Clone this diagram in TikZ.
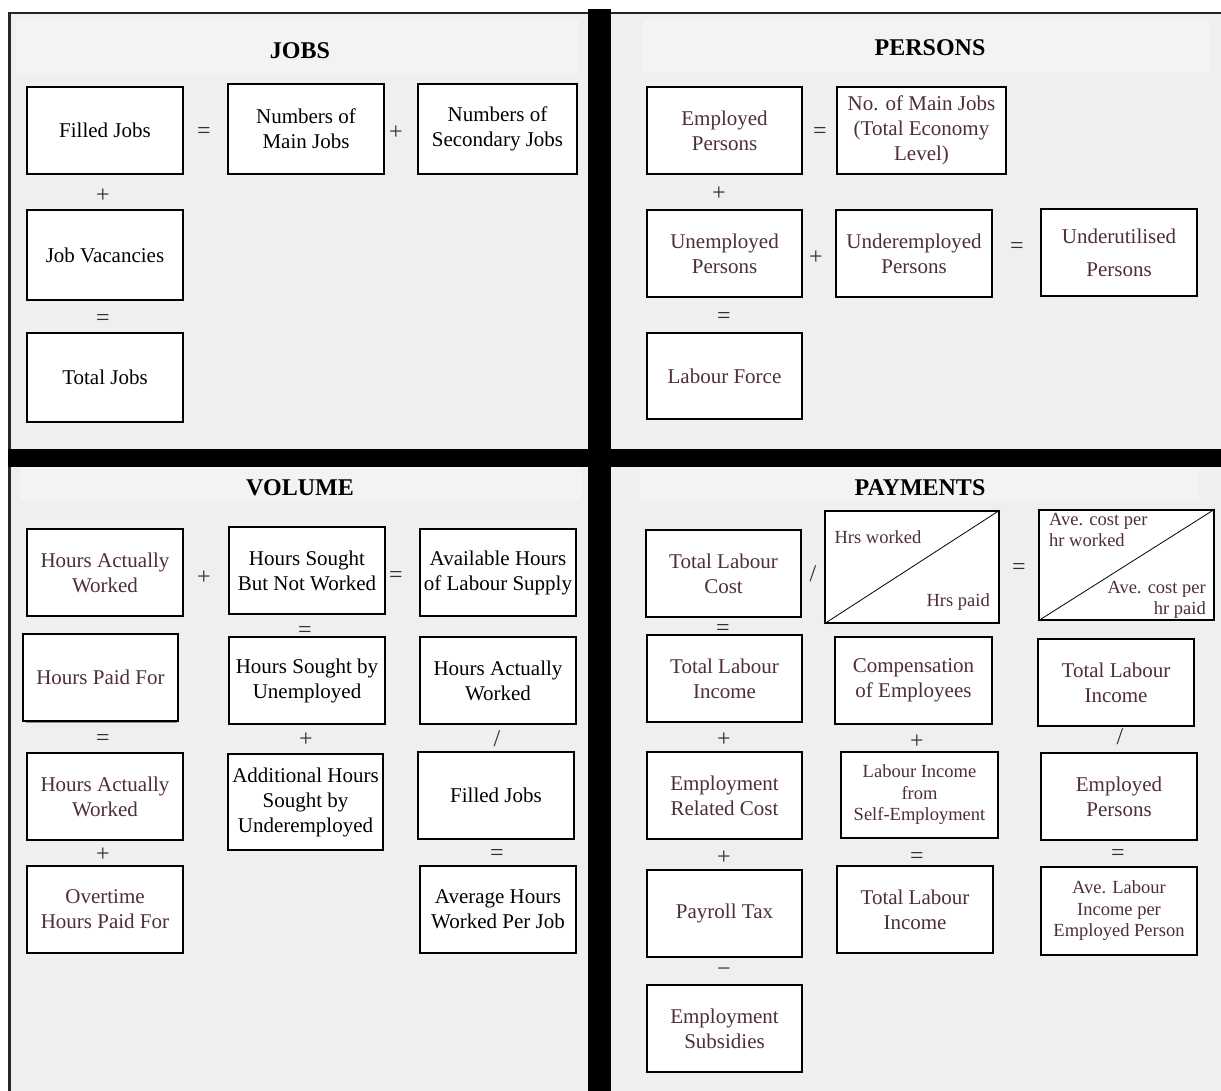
\documentclass[tikz,border=0pt]{standalone}
\usepackage{fontspec}
\setmainfont{Liberation Serif}
\definecolor{bgc}{HTML}{EFEFEF}
\definecolor{bandc}{HTML}{F3F3F3}
\definecolor{maroon}{HTML}{4E2E3C}
\definecolor{opc}{HTML}{2E2E2E}
\newcommand\txtbig{\fontsize{21}{25}\selectfont}
\newcommand\txtsmall{\fontsize{18.5}{21.5}\selectfont}
\newcommand\txttitle{\fontsize{24}{28}\selectfont\bfseries}
\newcommand\txtop{\fontsize{24}{28}\selectfont}
\tikzset{
  bx/.style={draw=black, line width=1.8pt, fill=white, align=center, inner sep=0pt,
    font=\txtbig, minimum width=156pt, minimum height=87pt},
  mar/.style={text=maroon},
  blk/.style={text=black},
  op/.style={text=opc, font=\txtop, inner sep=0pt, yshift=-2pt},
  ttl/.style={font=\txttitle, text=black, inner sep=0pt},
  band/.style={fill=bandc, draw=none},
  small/.style={font=\txtsmall, text=maroon, inner sep=0pt},
}
\begin{document}
\begin{tikzpicture}[x=1pt,y=-1pt]
\useasboundingbox (0,0) rectangle (1221,1091);
% background and frame
\fill[white] (0,0) rectangle (1221,1091);
\fill[bgc] (8,13) rectangle (1221,1091);
\draw[line width=2.2pt, color=black!85] (9.5,1091) -- (9.5,13) -- (1221,13);
% title bands
\fill[band] (16,20) rectangle (579,75);
\fill[band] (643,20) rectangle (1210,72);
\fill[band] (20,467) rectangle (581,500);
\fill[band] (640,467) rectangle (1199,501);
% dividers
\fill[black] (588,9) rectangle (611,1091);
\fill[black] (8,449) rectangle (1221,467);

% ================= JOBS =================
\node[ttl] (tJobs) at (300,51) {JOBS};
\node[bx,blk] (fj) at (105,130.5) {Filled Jobs};
\node[bx,blk,minimum height=90pt] (nmj) at (306,129) {Numbers of\\Main Jobs};
\node[bx,blk,minimum width=159pt,minimum height=90pt] (nsj) at (497.5,129) {Numbers of\\Secondary Jobs};
\node[bx,blk,minimum height=90pt] (jv) at (105,255) {Job Vacancies};
\node[bx,blk,minimum height=89pt] (tj) at (105,377.5) {Total Jobs};
\node[op] (j1) at (204,131) {=};
\node[op] (j2) at (396,131) {+};
\node[op] (j3) at (103,194) {+};
\node[op] (j4) at (103,318) {=};

% ================= PERSONS =================
\node[ttl] (tPers) at (930,48) {PERSONS};
\node[bx,mar,minimum width=155pt] (ep) at (724.5,130.5) {Employed\\Persons};
\node[bx,mar,minimum width=169pt] (nmj2) at (921.5,130.5) {No. of Main Jobs\\(Total Economy\\Level)};
\node[bx,mar,minimum width=155pt] (up) at (724.5,253.5) {Unemployed\\Persons};
\node[bx,mar] (uep) at (914,253.5) {Underemployed\\Persons};
\node[bx,mar] (utp) at (1119,252.5) {Underutilised\\[8pt]Persons};
\node[bx,mar,minimum width=155pt,minimum height=86pt] (lf) at (724.5,376) {Labour Force};
\node[op] (p1) at (820,131) {=};
\node[op] (p2) at (719,192) {+};
\node[op] (p3) at (816,256) {+};
\node[op] (p4) at (1017,246) {=};
\node[op] (p5) at (724,316) {=};

% ================= VOLUME =================
\node[ttl] (tVol) at (300,488) {VOLUME};
\node[bx,mar] (haw1) at (105,572.5) {Hours Actually\\Worked};
\node[bx,blk] (hsbnw) at (307,570.5) {Hours Sought\\But Not Worked};
\node[bx,blk] (ahls) at (498,572.5) {Available Hours\\of Labour Supply};
\draw[line width=0.8pt, black!45] (26,722.5) -- (177,722.5);
\node[bx,mar,minimum width=155pt] (hpf) at (100.5,677.5) {Hours Paid For};
\node[bx,blk] (hsu) at (307,680.5) {Hours Sought by\\Unemployed};
\node[bx,blk] (haw3) at (498,680.5) {Hours Actually\\Worked};
\node[bx,mar] (haw2) at (105,796.5) {Hours Actually\\Worked};
\node[bx,blk,minimum width=155pt,minimum height=96pt] (ahsu) at (305.5,802) {Additional Hours\\Sought by\\Underemployed};
\node[bx,blk] (fj2) at (496,795.5) {Filled Jobs};
\node[bx,mar] (ohpf) at (105,909.5) {Overtime\\Hours Paid For};
\node[bx,blk] (ahwpj) at (498,909.5) {Average Hours\\Worked Per Job};
\node[op] (v1) at (204,576) {+};
\node[op] (v2) at (396,575) {=};
\node[op] (v3) at (305,630) {=};
\node[op] (v4) at (103,738) {=};
\node[op] (v5) at (306,738) {+};
\node[op] (v6) at (497,737) {/};
\node[op] (v7) at (103,853) {+};
\node[op] (v8) at (497,853) {=};

% ================= PAYMENTS =================
\node[ttl] (tPay) at (920,488) {PAYMENTS};
\node[bx,mar,minimum width=155pt] (tlc) at (723.5,573.5) {Total Labour\\Cost};
\node[bx,mar,minimum width=174pt,minimum height=112pt] (hrs) at (912,567) {};
\draw[line width=0.8pt] (hrs.south west) -- (hrs.north east);
\node[small] (hrsw) at (878,537) {Hrs worked};
\node[small,anchor=east] (hrsp) at (990,602) {Hrs paid};
\node[bx,mar,minimum width=175pt,minimum height=110pt] (ave) at (1126.5,565) {};
\draw[line width=0.8pt] (ave.south west) -- (ave.north east);
\node[small,anchor=north west,align=left] (avew) at (1049,513) {Ave. cost per\\hr worked};
\node[small,anchor=south east,align=right] (avep) at (1206,619) {Ave. cost per\\hr paid};
\node[bx,mar,minimum width=155pt] (tli1) at (724.5,678.5) {Total Labour\\Income};
\node[bx,mar,minimum width=157pt] (coe) at (913.5,680.5) {Compensation\\of Employees};
\node[bx,mar] (tli3) at (1116,682.5) {Total Labour\\Income};
\node[bx,mar,minimum width=155pt] (erc) at (724.5,795.5) {Employment\\Related Cost};
\node[bx,mar,minimum width=157pt,minimum height=86pt,font=\txtsmall] (lise) at (919.5,795) {Labour Income\\from\\Self-Employment};
\node[bx,mar] (ep2) at (1119,796.5) {Employed\\Persons};
\node[bx,mar,minimum width=155pt] (pt) at (724.5,913.5) {Payroll Tax};
\node[bx,mar] (tli2) at (915,909.5) {Total Labour\\Income};
\node[bx,mar,minimum height=88pt,font=\txtsmall] (alie) at (1119,911) {Ave. Labour\\Income per\\Employed Person};
\node[bx,mar,minimum width=155pt] (es) at (724.5,1028.5) {Employment\\Subsidies};
\node[op] (y1) at (813,572) {/};
\node[op] (y2) at (1019,567) {=};
\node[op] (y3) at (723,628) {=};
\node[op] (y4) at (724,738) {+};
\node[op] (y5) at (917,740) {+};
\node[op] (y6) at (1120,735) {/};
\node[op] (y7) at (724,856) {+};
\node[op] (y8) at (917,856) {=};
\node[op] (y9) at (1118,853) {=};
\node[op] (y10) at (724,970) {\textminus};
\end{tikzpicture}
\end{document}
